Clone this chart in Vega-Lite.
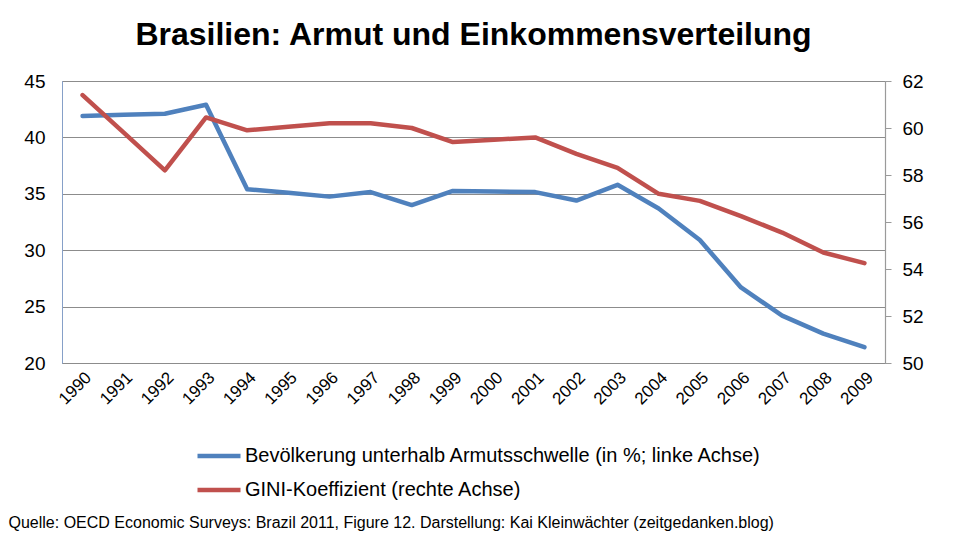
{
  "$schema": "https://vega.github.io/schema/vega-lite/v6.json",
  "width": 823,
  "height": 282,
  "autosize": {"type": "none"},
  "padding": {"left": 62, "top": 81, "right": 92, "bottom": 175},
  "background": "white",
  "title": {
    "text": "Brasilien: Armut und Einkommensverteilung",
    "font": "Liberation Sans",
    "fontSize": 32,
    "fontWeight": "bold",
    "color": "#000000",
    "anchor": "middle",
    "offset": 20
  },
  "data": {
    "values": [
      {"year": "1990", "series": "Bevölkerung unterhalb Armutsschwelle (in %; linke Achse)", "value": 41.9},
      {"year": "1991", "series": "Bevölkerung unterhalb Armutsschwelle (in %; linke Achse)", "value": 42.0},
      {"year": "1992", "series": "Bevölkerung unterhalb Armutsschwelle (in %; linke Achse)", "value": 42.1},
      {"year": "1993", "series": "Bevölkerung unterhalb Armutsschwelle (in %; linke Achse)", "value": 42.9},
      {"year": "1994", "series": "Bevölkerung unterhalb Armutsschwelle (in %; linke Achse)", "value": 35.4},
      {"year": "1995", "series": "Bevölkerung unterhalb Armutsschwelle (in %; linke Achse)", "value": 35.1},
      {"year": "1996", "series": "Bevölkerung unterhalb Armutsschwelle (in %; linke Achse)", "value": 34.75},
      {"year": "1997", "series": "Bevölkerung unterhalb Armutsschwelle (in %; linke Achse)", "value": 35.15},
      {"year": "1998", "series": "Bevölkerung unterhalb Armutsschwelle (in %; linke Achse)", "value": 34.0},
      {"year": "1999", "series": "Bevölkerung unterhalb Armutsschwelle (in %; linke Achse)", "value": 35.25},
      {"year": "2000", "series": "Bevölkerung unterhalb Armutsschwelle (in %; linke Achse)", "value": 35.2},
      {"year": "2001", "series": "Bevölkerung unterhalb Armutsschwelle (in %; linke Achse)", "value": 35.15},
      {"year": "2002", "series": "Bevölkerung unterhalb Armutsschwelle (in %; linke Achse)", "value": 34.4},
      {"year": "2003", "series": "Bevölkerung unterhalb Armutsschwelle (in %; linke Achse)", "value": 35.8},
      {"year": "2004", "series": "Bevölkerung unterhalb Armutsschwelle (in %; linke Achse)", "value": 33.7},
      {"year": "2005", "series": "Bevölkerung unterhalb Armutsschwelle (in %; linke Achse)", "value": 30.9},
      {"year": "2006", "series": "Bevölkerung unterhalb Armutsschwelle (in %; linke Achse)", "value": 26.7},
      {"year": "2007", "series": "Bevölkerung unterhalb Armutsschwelle (in %; linke Achse)", "value": 24.2},
      {"year": "2008", "series": "Bevölkerung unterhalb Armutsschwelle (in %; linke Achse)", "value": 22.6},
      {"year": "2009", "series": "Bevölkerung unterhalb Armutsschwelle (in %; linke Achse)", "value": 21.4},
      {"year": "1990", "series": "GINI-Koeffizient (rechte Achse)", "value": 61.4},
      {"year": "1991", "series": "GINI-Koeffizient (rechte Achse)", "value": 59.8},
      {"year": "1992", "series": "GINI-Koeffizient (rechte Achse)", "value": 58.2},
      {"year": "1993", "series": "GINI-Koeffizient (rechte Achse)", "value": 60.45},
      {"year": "1994", "series": "GINI-Koeffizient (rechte Achse)", "value": 59.9},
      {"year": "1995", "series": "GINI-Koeffizient (rechte Achse)", "value": 60.05},
      {"year": "1996", "series": "GINI-Koeffizient (rechte Achse)", "value": 60.2},
      {"year": "1997", "series": "GINI-Koeffizient (rechte Achse)", "value": 60.2},
      {"year": "1998", "series": "GINI-Koeffizient (rechte Achse)", "value": 60.0},
      {"year": "1999", "series": "GINI-Koeffizient (rechte Achse)", "value": 59.4},
      {"year": "2000", "series": "GINI-Koeffizient (rechte Achse)", "value": 59.5},
      {"year": "2001", "series": "GINI-Koeffizient (rechte Achse)", "value": 59.6},
      {"year": "2002", "series": "GINI-Koeffizient (rechte Achse)", "value": 58.9},
      {"year": "2003", "series": "GINI-Koeffizient (rechte Achse)", "value": 58.3},
      {"year": "2004", "series": "GINI-Koeffizient (rechte Achse)", "value": 57.2},
      {"year": "2005", "series": "GINI-Koeffizient (rechte Achse)", "value": 56.9},
      {"year": "2006", "series": "GINI-Koeffizient (rechte Achse)", "value": 56.25},
      {"year": "2007", "series": "GINI-Koeffizient (rechte Achse)", "value": 55.55},
      {"year": "2008", "series": "GINI-Koeffizient (rechte Achse)", "value": 54.7},
      {"year": "2009", "series": "GINI-Koeffizient (rechte Achse)", "value": 54.25}
    ]
  },
  "encoding": {
    "x": {
      "field": "year",
      "type": "ordinal",
      "scale": {"type": "point", "padding": 0.5},
      "axis": {
        "title": "Quelle: OECD Economic Surveys: Brazil 2011, Figure 12. Darstellung: Kai Kleinwächter (zeitgedanken.blog)",
        "titleFont": "Liberation Sans",
        "titleFontSize": 16,
        "titleFontWeight": "normal",
        "titleColor": "#000000",
        "titleAnchor": "start",
        "titleAlign": "left",
        "titleBaseline": "alphabetic",
        "titleX": -54,
        "titleY": 164,
        "labelAngle": -45,
        "labelFont": "Liberation Sans",
        "labelFontSize": 17,
        "labelColor": "#000000",
        "labelPadding": 6,
        "labelOverlap": false,
        "domainColor": "#8c8c8c",
        "domainWidth": 1.2,
        "ticks": false,
        "grid": false
      }
    },
    "color": {
      "field": "series",
      "type": "nominal",
      "scale": {
        "domain": ["Bevölkerung unterhalb Armutsschwelle (in %; linke Achse)", "GINI-Koeffizient (rechte Achse)"],
        "range": ["#4F81BD", "#C0504D"]
      },
      "legend": {
        "title": null,
        "orient": "none",
        "legendX": 133,
        "legendY": 351,
        "direction": "vertical",
        "symbolType": "stroke",
        "symbolStrokeWidth": 4.5,
        "symbolSize": 1849,
        "labelFont": "Liberation Sans",
        "labelFontSize": 20,
        "labelColor": "#000000",
        "labelLimit": 800,
        "labelOffset": 2,
        "rowPadding": -11
      }
    }
  },
  "layer": [
    {
      "transform": [{"filter": "datum.series === 'Bevölkerung unterhalb Armutsschwelle (in %; linke Achse)'"}],
      "mark": {"type": "line", "strokeWidth": 4.5, "strokeCap": "round", "strokeJoin": "round"},
      "encoding": {
        "y": {
          "field": "value",
          "type": "quantitative",
          "scale": {"domain": [20, 45], "nice": false, "zero": false},
          "axis": {
            "title": null,
            "orient": "left",
            "values": [20, 25, 30, 35, 40, 45],
            "labelFont": "Liberation Sans",
            "labelFontSize": 19,
            "labelColor": "#000000",
            "labelPadding": 17,
            "domainColor": "#86a0c8",
            "ticks": false,
            "grid": true,
            "gridColor": "#8c8c8c",
            "gridWidth": 1.2
          }
        }
      }
    },
    {
      "transform": [{"filter": "datum.series === 'GINI-Koeffizient (rechte Achse)'"}],
      "mark": {"type": "line", "strokeWidth": 4.5, "strokeCap": "round", "strokeJoin": "round"},
      "encoding": {
        "y": {
          "field": "value",
          "type": "quantitative",
          "scale": {"domain": [50, 62], "nice": false, "zero": false},
          "axis": {
            "title": null,
            "orient": "right",
            "values": [50, 52, 54, 56, 58, 60, 62],
            "labelFont": "Liberation Sans",
            "labelFontSize": 19,
            "labelColor": "#000000",
            "labelPadding": 11,
            "domainColor": "#9a9a9a",
            "domainWidth": 1.2,
            "tickColor": "#9a9a9a",
            "tickSize": 6,
            "grid": false
          }
        }
      }
    }
  ],
  "resolve": {"scale": {"y": "independent"}},
  "config": {
    "view": {"stroke": "#86a0c8", "strokeWidth": 1},
    "font": "Liberation Sans"
  }
}
